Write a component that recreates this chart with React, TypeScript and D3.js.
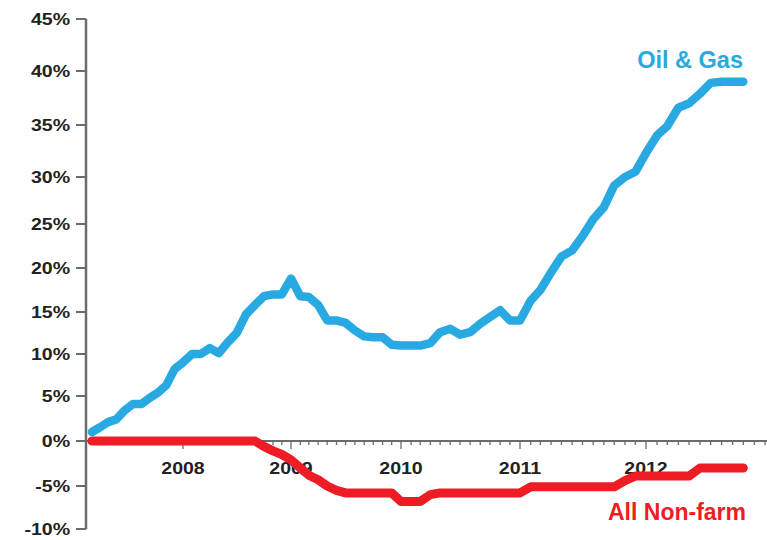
import React from "react";
import * as d3 from "d3";

// monthly series, first value = Feb 2007
const START = new Date(2007, 1, 1);
const oilGas = [
  1.0, 1.5, 2.1, 2.4, 3.4, 4.1, 4.1, 4.8, 5.4, 6.3, 8.2,
  9.0, 10.0, 10.0, 10.7, 10.1, 11.4, 12.5, 14.7, 15.8, 16.8, 17.0, 17.0,
  18.8, 16.8, 16.7, 15.8, 14.0, 14.0, 13.7, 12.8, 12.1, 12.0, 12.0, 11.1,
  11.0, 11.0, 11.0, 11.3, 12.6, 13.0, 12.3, 12.6, 13.6, 14.4, 15.2, 14.0,
  14.0, 16.3, 17.5, 19.5, 21.3, 22.0, 23.6, 25.5, 26.8, 29.1, 30.0, 30.5,
  32.3, 34.0, 34.9, 36.6, 37.0, 37.9, 38.9, 39.0, 39.0, 39.0,
];
const nonFarm = [
  0, 0, 0, 0, 0, 0, 0, 0, 0, 0, 0,
  0, 0, 0, 0, 0, 0, 0, 0, 0, -0.6, -1.1, -1.5,
  -2.1, -3.0, -3.8, -4.3, -5.0, -5.5, -5.8, -5.8, -5.8, -5.8, -5.8, -5.8,
  -6.8, -6.8, -6.8, -6.0, -5.8, -5.8, -5.8, -5.8, -5.8, -5.8, -5.8, -5.8,
  -5.8, -5.1, -5.1, -5.1, -5.1, -5.1, -5.1, -5.1, -5.1, -5.1, -4.4, -3.9,
  -3.9, -3.9, -3.9, -3.9, -3.9, -3.0, -3.0, -3.0, -3.0, -3.0,
];
const yTicks = [-10, -5, 0, 5, 10, 15, 20, 25, 30, 35, 40, 45];
const yearTicks = [2008, 2009, 2010, 2011, 2012];

const W = 767;
const H = 540;
const BLUE = "#29a9e1";
const RED = "#ee1c24";
const AXIS = "#6b6b6b";
const FONT = "'Liberation Sans', Arial, sans-serif";

// the source picture is unevenly stretched, so both scales are piecewise
const y = d3
  .scaleLinear()
  .domain(yTicks)
  .range([529, 486, 441, 396, 354, 312, 268, 224, 177, 125, 71, 19]);

const x = d3
  .scaleTime()
  .domain([
    START,
    new Date(2008, 0, 1),
    new Date(2009, 0, 1),
    new Date(2010, 0, 1),
    new Date(2011, 0, 1),
    new Date(2012, 0, 1),
    new Date(2013, 0, 1),
  ])
  .range([92, 183, 291, 401, 520, 646, 776]);

const AXIS_X = 86;

type Pt = { date: Date; v: number };
const toPts = (vals: number[]): Pt[] =>
  vals.map((v, i) => ({ date: d3.timeMonth.offset(START, i), v }));

const line = d3
  .line<Pt>()
  .x((d) => x(d.date))
  .y((d) => y(d.v));

export default function App() {
  const months = d3
    .timeMonth.range(START, new Date(2013, 0, 1))
    .filter((d) => x(d) <= W);

  return (
    <svg
      width={W}
      height={H}
      style={{ position: "absolute", left: 0, top: 0, background: "#fff" }}
      fontFamily={FONT}
    >
      {/* y axis */}
      <line x1={AXIS_X} x2={AXIS_X} y1={y(45)} y2={y(-10)} stroke={AXIS} strokeWidth={2.5} />
      {yTicks.map((t) => (
        <g key={t}>
          <line x1={AXIS_X - 10} x2={AXIS_X} y1={y(t)} y2={y(t)} stroke={AXIS} strokeWidth={2} />
          <text
            transform={`translate(70,${y(t)}) scale(1.15,1)`}
            dy="0.36em"
            textAnchor="end"
            fontSize={17}
            fontWeight="bold"
            fill="#222"
          >
            {t}%
          </text>
        </g>
      ))}

      {/* x axis */}
      <line x1={AXIS_X} x2={W} y1={y(0)} y2={y(0)} stroke={AXIS} strokeWidth={2} />
      {months.map((m) => (
        <line
          key={+m}
          x1={x(m)}
          x2={x(m)}
          y1={y(0)}
          y2={y(0) + (m.getMonth() === 0 ? 8 : 4)}
          stroke={AXIS}
          strokeWidth={1.3}
        />
      ))}
      {yearTicks.map((yr) => (
        <text
          key={yr}
          transform={`translate(${x(new Date(yr, 0, 1))},474) scale(1.15,1)`}
          textAnchor="middle"
          fontSize={17}
          fontWeight="bold"
          fill="#222"
        >
          {yr}
        </text>
      ))}

      {/* series */}
      <path
        d={line(toPts(oilGas)) ?? ""}
        fill="none"
        stroke={BLUE}
        strokeWidth={8.5}
        strokeLinejoin="round"
        strokeLinecap="round"
      />
      <path
        d={line(toPts(nonFarm)) ?? ""}
        fill="none"
        stroke={RED}
        strokeWidth={9}
        strokeLinejoin="round"
        strokeLinecap="round"
      />

      <text x={743} y={68} textAnchor="end" fontSize={23.5} fontWeight="bold" fill={BLUE}>
        Oil &amp; Gas
      </text>
      <text x={746} y={520} textAnchor="end" fontSize={23} fontWeight="bold" fill={RED}>
        All Non-farm
      </text>
    </svg>
  );
}
